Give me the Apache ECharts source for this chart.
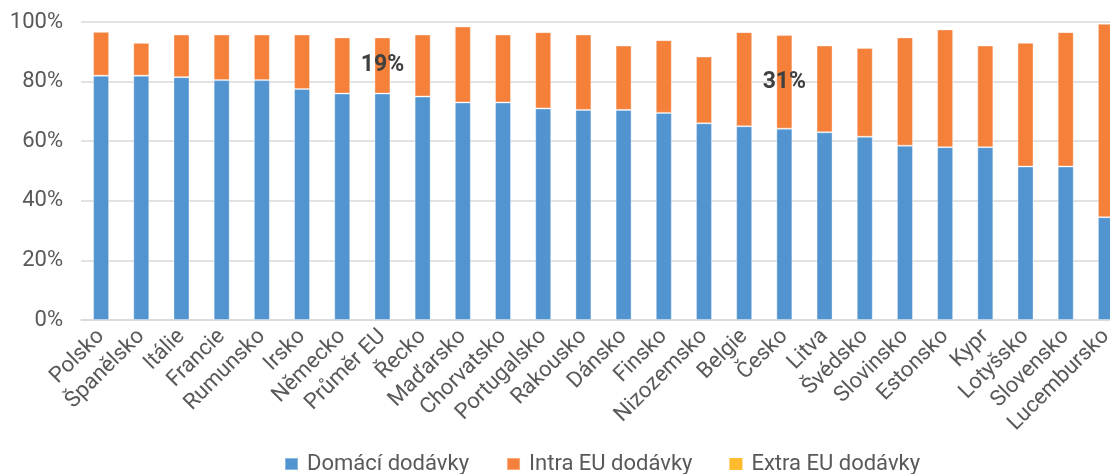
<!DOCTYPE html>
<html>
<head>
<meta charset="utf-8">
<script src="https://cdn.jsdelivr.net/npm/echarts@6/dist/echarts.min.js"></script>
<style>html,body{margin:0;padding:0;background:#fff;overflow:hidden;width:1110px;height:474px}#c{width:1130px;height:474px}</style>
</head>
<body>
<div id="c"></div>
<script>
const categories = ["Polsko","Španělsko","Itálie","Francie","Rumunsko","Irsko","Německo","Průměr EU","Řecko","Maďarsko","Chorvatsko","Portugalsko","Rakousko","Dánsko","Finsko","Nizozemsko","Belgie","Česko","Litva","Švédsko","Slovinsko","Estonsko","Kypr","Lotyšsko","Slovensko","Lucembursko"];
const domaci = [82,82,81.5,80.5,80.5,77.5,76,76,75,73,73,71,70.5,70.5,69.5,66,65,64.2,63,61.5,58.5,58,58,51.5,51.5,34.5];
const intraEU = [14.7,11,14.3,15.3,15.3,18.3,18.8,18.8,20.8,25.5,22.8,25.6,25.3,21.6,24.4,22.4,31.6,31.4,29.1,29.8,36.3,39.5,34.1,41.5,45.1,64.9];
const extraEU = [0,0,0,0,0,0,0,0,0,0,0,0,0,0,0,0,0,0,0,0,0,0,0,0,0,0];
const labelled = ["Průměr EU","Česko"];
const yTicks = [0,20,40,60,80,100];

const FONT = "Roboto";
const chart = echarts.init(document.getElementById('c'), null, {renderer:'canvas'});
const intraData = intraEU.map((v,i)=> labelled.includes(categories[i]) ? {value:v, label:{show:true}} : v);
chart.setOption({
  animation:false,
  textStyle:{fontFamily:FONT},
  grid:{left:81, top:22, width:1045, height:298, containLabel:false},
  legend:{
    top:453, left:284, itemWidth:13, itemHeight:12, itemGap:37, padding:0,
    icon:'rect',
    textStyle:{fontSize:22, color:'#595959', fontFamily:FONT, padding:[0,0,0,4]},
    data:['Domácí dodávky','Intra EU dodávky','Extra EU dodávky']
  },
  xAxis:{
    type:'category', data:categories,
    axisLine:{lineStyle:{color:'#d9d9d9', width:1.5}},
    axisTick:{show:false},
    axisLabel:{rotate:45, fontSize:22, color:'#595959', margin:13, interval:0, fontFamily:FONT}
  },
  yAxis:{
    type:'value', min:0, max:100, interval:20,
    axisLabel:{formatter:'{value}%', fontSize:22, color:'#595959', margin:18, fontFamily:FONT},
    splitLine:{lineStyle:{color:'#d9d9d9', width:1.5}},
    axisLine:{show:false}, axisTick:{show:false}
  },
  series:[
    {name:'Domácí dodávky', type:'bar', stack:'a', data:domaci, barWidth:16,
     itemStyle:{color:'#5294D0', borderColor:'rgba(255,255,255,0.35)', borderWidth:1}},
    {name:'Intra EU dodávky', type:'bar', stack:'a', data:intraData, barWidth:16,
     itemStyle:{color:'#F4803A', borderColor:'rgba(255,255,255,0.35)', borderWidth:1},
     label:{show:false, position:'inside', fontSize:23, fontWeight:'bold', color:'#404040', fontFamily:FONT,
       formatter:p=>Math.round(p.value)+'%'}},
    {name:'Extra EU dodávky', type:'bar', stack:'a', data:extraEU, barWidth:16,
     itemStyle:{color:'#FDBB2D'}}
  ]
});
</script>
</body>
</html>
